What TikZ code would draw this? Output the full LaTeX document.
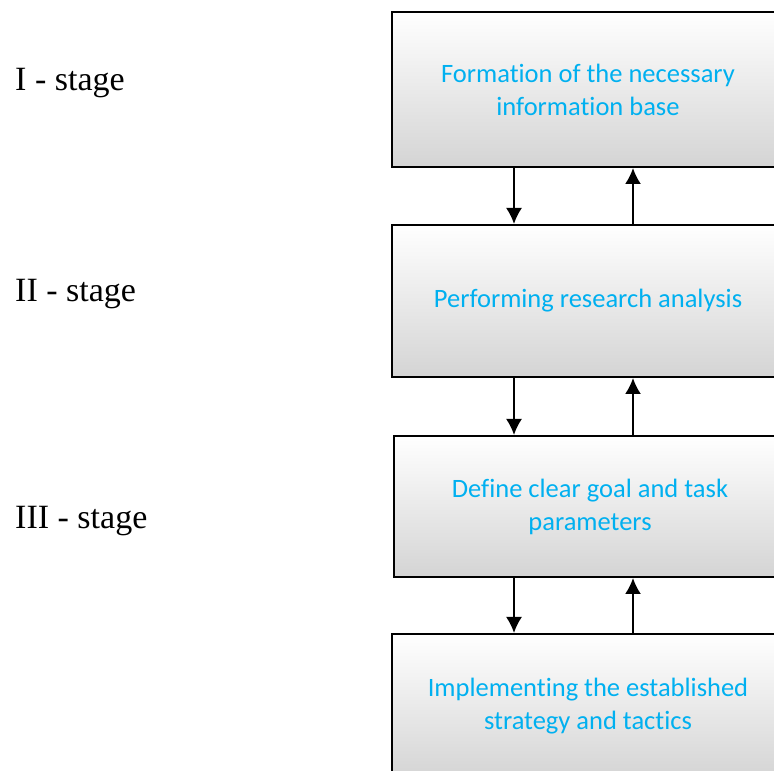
\documentclass[tikz,border=0pt]{standalone}
\usepackage{fontspec}
\setmainfont{Liberation Serif}
\newfontfamily\boxfont[Ligatures=NoCommon]{Carlito}
\usetikzlibrary{arrows.meta}
\tikzset{>={Latex[length=16pt,width=16pt]}}
\definecolor{stagecyan}{RGB}{0,176,240}
\definecolor{boxgray}{RGB}{212,212,212}

\begin{document}
\begin{tikzpicture}[x=1pt,y=1pt,every text node part/.style={align=center},
    stagebox/.style={draw,line width=2pt,minimum width=392pt,inner sep=0pt,
      top color=white,middle color=white,bottom color=boxgray,
      text=stagecyan,font=\boxfont\fontsize{26.5}{33}\selectfont},
    stagelabel/.style={anchor=west,inner sep=0pt,font=\fontsize{34}{38}\selectfont},
    link/.style={->,line width=2pt}]
      \useasboundingbox (0,0) rectangle (774,771);
      \clip (0,0) rectangle (774,771);

      \node[stagelabel] (stageI)   at (15,688) {I - stage};
      \node[stagelabel] (stageII)  at (15,477) {II - stage};
      \node[stagelabel] (stageIII) at (15,250) {III - stage};

      \node[stagebox,minimum height=155pt] (form) at (588,681.5) {Formation of the necessary\\information base};
      \node[stagebox,minimum height=152pt] (perf) at (588,470)   {Performing research analysis};
      \node[stagebox,minimum height=141pt] (goal) at (590,264.5) {Define clear goal and task\\parameters};
      \node[stagebox,minimum height=145pt] (impl) at (588,64.5)  {Implementing the established\\strategy and tactics};

      \draw[link] ([xshift=-74pt]form.south) -- ([xshift=-74pt]perf.north);
      \draw[link] ([xshift=45pt]perf.north)  -- ([xshift=45pt]form.south);

      \draw[link] ([xshift=-74pt]perf.south) -- ([xshift=-76pt]goal.north);
      \draw[link] ([xshift=43pt]goal.north)  -- ([xshift=45pt]perf.south);

      \draw[link] ([xshift=-76pt]goal.south) -- ([xshift=-74pt]impl.north);
      \draw[link] ([xshift=45pt]impl.north)  -- ([xshift=43pt]goal.south);
    \end{tikzpicture}
\end{document}
